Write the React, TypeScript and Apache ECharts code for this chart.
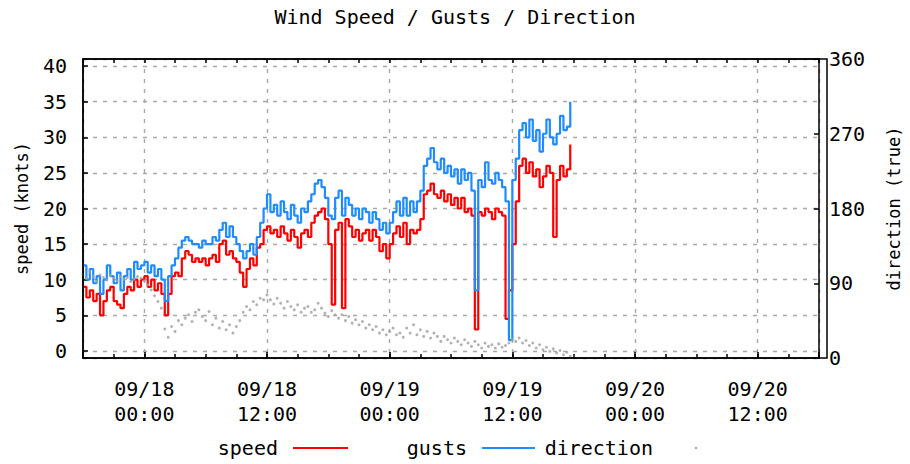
import React, { useEffect, useRef } from "react";
import * as echarts from "echarts";

const chartTitle = "Wind Speed / Gusts / Direction";
const leftAxisName = "speed (knots)";
const rightAxisName = "direction (true)";
const legendNames = ["speed", "gusts", "direction"];

// samples every 20 minutes, starting at 09/17 18:00 (hours relative to 09/18 00:00)
const startHour = -6;
const stepHours = 1 / 3;

const speed = [
  9, 7.5, 8.5, 7, 8, 5, 7, 8.5, 9, 7,
  6.5, 6, 8, 9, 8.5, 10, 9, 10, 10.5, 9,
  10, 8.5, 9.5, 8, 5, 8, 10.5, 11, 10.5, 13,
  14, 13.5, 12.5, 13, 12.5, 13, 12, 13, 13.5, 12.5,
  15, 15.5, 13.5, 14, 13, 12.5, 11, 9, 11.5, 13,
  12, 14.5, 15, 17, 17.5, 16.5, 17, 16, 17.5, 16.5,
  15.5, 17, 16, 14.5, 16.5, 17, 16, 18, 19, 19.5,
  20, 18.5, 15, 6.5, 17, 18, 6, 18.5, 17.5, 16,
  17, 15.5, 16.5, 17, 15.5, 17, 16, 14, 15, 13,
  15, 16.5, 17.5, 16, 18, 15, 17, 16.5, 17, 18.5,
  22, 22.5, 23.5, 22, 21.5, 22.5, 21, 22, 20.5, 21.5,
  20, 21.5, 19.5, 20, 19, 3, 19.5, 19, 20, 19.5,
  18.5, 20, 19.5, 19, 4.5, 8.5, 15, 21, 26, 27,
  25, 26.5, 24.5, 25.5, 23, 24.5, 26, 25, 16, 24,
  26, 24.5, 25.5, 29,
];

const gusts = [
  12, 10, 11.5, 9.5, 10.5, 8, 10, 12, 10.5, 9.5,
  11, 8.5, 10.5, 11.5, 10, 12.5, 11.5, 12, 12.5, 11,
  12, 10.5, 11.5, 10, 7, 10.5, 12, 13, 14.5, 15.5,
  16, 15.5, 15, 15, 14.5, 15.5, 15, 15, 16, 15.5,
  17, 18, 16, 17.5, 16, 15, 14, 13, 14, 15,
  13.5, 16, 18, 20, 22, 19.5, 20.5, 19, 21, 19.5,
  18.5, 20.5, 19, 18, 20, 19.5, 21, 22, 23.5, 24,
  23, 21.5, 19, 18.5, 21.5, 22.5, 19, 21.5, 20.5, 19,
  20, 18.5, 20, 19.5, 18, 19.5, 18.5, 17, 18, 16.5,
  18, 19.5, 21, 19, 21.5, 19, 21, 19.5, 21, 22.5,
  26, 27, 28.5, 26.5, 25.5, 27, 25, 26, 24.5, 25.5,
  23.5, 25.5, 24, 25, 22.5, 8.5, 24, 23, 26.5, 24,
  23.5, 25, 24, 23, 21, 1.5, 24, 27, 31, 32,
  30, 32.5, 29.5, 31, 28, 30.5, 32.5, 30, 29, 30.5,
  33, 31, 31.5, 35,
];

const direction = [
  100, 96, 104, 98, 92, 100, 97, 94, 99, 96,
  93, 98, 95, 97, 92, 95, 98, 96, 93, 88,
  82, 75, 68, 60, 35, 25, 38, 32, 45, 40,
  48, 52, 44, 55, 58, 50, 45, 56, 40, 48,
  36, 44, 34, 40, 30, 38, 45, 55, 62, 58,
  68, 64, 72, 70, 76, 70, 65, 72, 66, 60,
  68, 62, 58, 64, 55, 60, 62, 55, 58, 66,
  60, 54, 50, 57, 52, 48, 52, 45, 50, 42,
  46, 40, 44, 36, 40, 34, 38, 30, 34, 28,
  32, 36, 28, 30, 25, 36, 30, 40, 28, 34,
  26, 32, 24, 30, 26, 20, 26, 22, 18, 24,
  20, 16, 22, 18, 14, 20, 16, 12, 18, 14,
  16, 12, 17, 13, 15, 18, 22, 20, 24, 18,
  21, 15, 18, 12, 16, 10, 13, 8, 11, 6,
  9, 4, 7, 2,
];

const dayLabels = ["09/18", "09/18", "09/19", "09/19", "09/20", "09/20"];
const timeLabels = ["00:00", "12:00", "00:00", "12:00", "00:00", "12:00"];

const FONT = "'DejaVu Sans Mono', 'Liberation Mono', monospace";
const GRID = { left: 83, top: 59, width: 744, height: 299 };
const GRIDLINE = { color: "#a8a8a8", width: 1.4, type: [4, 6] as any };
const RED = "#ff0000";
const BLUE = "#1e8cff";
const GRAY = "#a0a0a0";

const toPairs = (arr: number[]) => arr.map((v, i) => [startHour + i * stepHours, v]);

export default function App() {
  const ref = useRef<HTMLDivElement>(null);

  useEffect(() => {
    if (!ref.current) return;
    const chart = echarts.init(ref.current, null, { renderer: "svg" });
    const xBase = {
      type: "value",
      min: -6,
      max: 66,
      gridIndex: 0,
    };
    const legendText = (text: string, x: number) => ({
      type: "text",
      z: 100,
      x,
      y: 448,
      style: {
        text,
        fill: "#000",
        font: `20px ${FONT}`,
        textAlign: "right",
        textVerticalAlign: "middle",
        align: "right",
        verticalAlign: "middle",
      },
    });
    const option: any = {
      animation: false,
      backgroundColor: "#ffffff",
      title: {
        text: chartTitle,
        left: "center",
        top: 7,
        padding: 0,
        textStyle: { fontFamily: FONT, fontSize: 20, fontWeight: "normal", color: "#000" },
      },
      grid: { ...GRID, containLabel: false },
      xAxis: [
        {
          ...xBase,
          position: "bottom",
          splitNumber: 6,
          minInterval: 12,
          maxInterval: 12,
          axisLine: { show: true, onZero: false, lineStyle: { color: "#000", width: 1.5 } },
          axisTick: { show: true, inside: true, length: 6, lineStyle: { color: "#000", width: 1.5 } },
          axisLabel: {
            margin: 18,
            fontFamily: FONT,
            fontSize: 20,
            lineHeight: 25,
            color: "#000",
            formatter: (v: number) => {
              const k = Math.round(v / 12);
              if (Math.abs(v - k * 12) > 1e-6 || k < 0 || k >= dayLabels.length) return "";
              return dayLabels[k] + "\n" + timeLabels[k];
            },
          },
          splitLine: { show: true, lineStyle: GRIDLINE },
        },
        {
          ...xBase,
          position: "bottom",
          interval: 3,
          axisLine: { show: false, onZero: false },
          axisTick: { show: true, inside: true, length: 4, lineStyle: { color: "#000", width: 1.5 } },
          axisLabel: { show: false },
          splitLine: { show: false },
        },
        {
          ...xBase,
          position: "top",
          interval: 3,
          axisLine: { show: true, onZero: false, lineStyle: { color: "#000", width: 1.5 } },
          axisTick: { show: true, inside: true, length: 4, lineStyle: { color: "#000", width: 1.5 } },
          axisLabel: { show: false },
          splitLine: { show: false },
        },
      ],
      yAxis: [
        {
          type: "value",
          position: "left",
          min: -1,
          max: 41,
          splitNumber: 8,
          minInterval: 5,
          maxInterval: 5,
          name: leftAxisName,
          nameLocation: "middle",
          nameRotate: 90,
          nameGap: 53,
          nameTextStyle: { fontFamily: FONT, fontSize: 17, color: "#000" },
          axisLine: { show: true, onZero: false, lineStyle: { color: "#000", width: 1.5 } },
          axisTick: { show: true, inside: true, length: 5, lineStyle: { color: "#000", width: 1.5 } },
          axisLabel: {
            margin: 16,
            fontFamily: FONT,
            fontSize: 20,
            color: "#000",
            formatter: (v: number) =>
              Math.abs(v % 5) < 1e-6 && v >= 0 && v <= 40 ? String(v) : "",
          },
          splitLine: { show: true, lineStyle: GRIDLINE },
        },
        {
          type: "value",
          position: "right",
          min: 0,
          max: 360,
          interval: 90,
          name: rightAxisName,
          nameLocation: "middle",
          nameRotate: 90,
          nameGap: 66,
          nameTextStyle: { fontFamily: FONT, fontSize: 17, color: "#000" },
          axisLine: { show: true, onZero: false, lineStyle: { color: "#000", width: 1.5 } },
          axisTick: { show: true, inside: true, length: 5, lineStyle: { color: "#000", width: 1.5 } },
          axisLabel: { margin: 10, fontFamily: FONT, fontSize: 20, color: "#000" },
          splitLine: { show: false },
        },
      ],
      series: [
        {
          name: legendNames[0],
          type: "line",
          step: "end",
          showSymbol: false,
          symbol: "none",
          z: 2,
          xAxisIndex: 0,
          yAxisIndex: 0,
          lineStyle: { color: RED, width: 2.2 },
          itemStyle: { color: RED },
          data: toPairs(speed),
        },
        {
          name: legendNames[1],
          type: "line",
          step: "end",
          showSymbol: false,
          symbol: "none",
          z: 3,
          xAxisIndex: 0,
          yAxisIndex: 0,
          lineStyle: { color: BLUE, width: 2.2 },
          itemStyle: { color: BLUE },
          data: toPairs(gusts),
        },
        {
          name: legendNames[2],
          type: "scatter",
          symbolSize: 3,
          z: 4,
          xAxisIndex: 0,
          yAxisIndex: 1,
          itemStyle: { color: GRAY },
          data: toPairs(direction),
        },
      ],
      graphic: [
        {
          type: "rect",
          z: 100,
          silent: true,
          shape: { x: GRID.left, y: GRID.top, width: GRID.width, height: GRID.height },
          style: { fill: "none", stroke: "#000", lineWidth: 1.5 },
        },
        legendText(legendNames[0], 278),
        {
          type: "line",
          z: 100,
          shape: { x1: 293, y1: 448, x2: 348, y2: 448 },
          style: { stroke: RED, lineWidth: 2 },
        },
        legendText(legendNames[1], 467),
        {
          type: "line",
          z: 100,
          shape: { x1: 482, y1: 448, x2: 535, y2: 448 },
          style: { stroke: BLUE, lineWidth: 2 },
        },
        legendText(legendNames[2], 653),
        {
          type: "circle",
          z: 100,
          shape: { cx: 696, cy: 448, r: 1.2 },
          style: { fill: GRAY },
        },
      ],
    };
    chart.setOption(option);
    return () => chart.dispose();
  }, []);

  return (
    <div
      ref={ref}
      style={{ position: "fixed", left: 0, top: 0, width: 910, height: 464, background: "#fff" }}
    />
  );
}
